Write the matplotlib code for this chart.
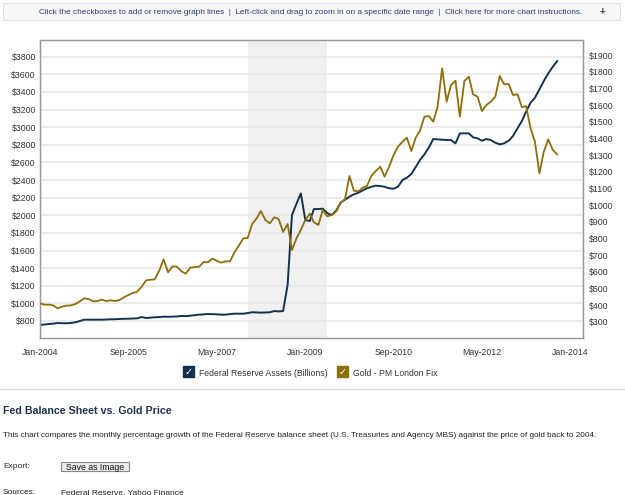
import matplotlib
matplotlib.use("Agg")
import matplotlib.pyplot as plt
import matplotlib.dates as mdates
from matplotlib.patches import Rectangle, FancyBboxPatch
from matplotlib.lines import Line2D
import numpy as np
import pandas as pd

plt.rcParams['font.family'] = ['Liberation Sans', 'DejaVu Sans']

# monthly values, Jan-2004 .. Oct-2013
fed_assets = [755, 760, 766, 770, 777, 775, 774, 778, 785, 800, 815, 815,
              815, 815, 815, 817, 819, 820, 823, 825, 826, 828, 830, 845,
              834, 838, 842, 845, 849, 848, 849, 852, 857, 855, 860, 866,
              872, 875, 879, 878, 876, 872, 872, 878, 883, 883, 883, 890,
              899, 897, 895, 897, 899, 913, 909, 913, 1209, 2003, 2131, 2249,
              1945, 1935, 2071, 2071, 2075, 2025, 2003, 2052, 2143, 2177, 2211, 2238,
              2256, 2283, 2306, 2324, 2336, 2332, 2324, 2306, 2302, 2324, 2400, 2426,
              2468, 2551, 2627, 2692, 2767, 2866, 2862, 2858, 2854, 2854, 2817, 2930,
              2930, 2930, 2885, 2874, 2846, 2866, 2854, 2824, 2805, 2817, 2846, 2900,
              2987, 3073, 3176, 3278, 3334, 3430, 3524, 3611, 3686, 3751]
gold_fix = [410, 402, 402, 398, 380, 390, 396, 398, 406, 422, 440, 436,
            422, 424, 432, 424, 428, 424, 430, 446, 460, 472, 480, 510,
            548, 552, 553, 606, 674, 596, 632, 630, 602, 588, 624, 628,
            630, 658, 656, 678, 666, 654, 662, 662, 716, 756, 800, 802,
            886, 920, 964, 910, 890, 926, 916, 838, 886, 730, 800, 850,
            910, 948, 896, 880, 970, 932, 940, 960, 1014, 1034, 1174, 1086,
            1082, 1104, 1114, 1174, 1204, 1230, 1170, 1230, 1300, 1350, 1380, 1404,
            1324, 1406, 1444, 1530, 1534, 1500, 1590, 1820, 1620, 1720, 1746, 1530,
            1744, 1770, 1664, 1650, 1564, 1600, 1620, 1650, 1774, 1724, 1726, 1660,
            1664, 1586, 1594, 1460, 1380, 1190, 1320, 1394, 1330, 1304]
dates = pd.date_range('2004-01-01', periods=len(fed_assets), freq='MS')

x_ticks = pd.to_datetime(['2004-01-01', '2005-09-01', '2007-05-01', '2009-01-01',
                          '2010-09-01', '2012-05-01', '2014-01-01'])
left_ticks = list(range(800, 3801, 200))
right_ticks = list(range(300, 1901, 100))
recession = (pd.Timestamp('2007-12-01'), pd.Timestamp('2009-06-01'))

W, H = 625, 495
fx = lambda x: x / W
fy = lambda y: 1 - y / H

navy = '#14324f'
gold = '#8c6e0c'
txt = '#333333'

fig = plt.figure(figsize=(6.25, 4.95), dpi=100)
fig.patch.set_facecolor('white')

# top instruction bar
fig.add_artist(FancyBboxPatch((fx(3), fy(20)), fx(617), 17 / H, boxstyle='square,pad=0',
                              transform=fig.transFigure, facecolor='#f7f7f7',
                              edgecolor='#dddddd', lw=0.8))
fig.text(fx(311), fy(11.5), 'Click the checkboxes to add or remove graph lines  |  '
         'Left-click and drag to zoom in on a specific date range  |  '
         'Click here for more chart instructions.', fontsize=5.93, color='#2b3f7a',
         ha='center', va='center_baseline')
fig.text(fx(602), fy(11.5), '+', fontsize=7, color='#444444', ha='center',
         va='center_baseline', fontweight='bold')

ax = fig.add_axes([fx(40), fy(338), (583 - 40) / W, (338 - 40) / H])
ax2 = ax.twinx()

ax.axvspan(recession[0], recession[1], color='#f0f0f0', zorder=0, lw=0)
ax.set_axisbelow(True)
ax.yaxis.grid(True, color='#e8e8e8', lw=1.2)

ax.plot(dates, fed_assets, color=navy, lw=1.4, zorder=3)
ax2.plot(dates, gold_fix, color=gold, lw=1.3, zorder=3)

ax.set_xlim(pd.Timestamp('2004-01-01'), pd.Timestamp('2014-03-28'))
ax.set_ylim(607, 3990)
ax2.set_ylim(202, 1990)

ax.set_xticks(x_ticks)
ax.xaxis.set_major_formatter(mdates.DateFormatter('%b-%Y'))
ax.set_yticks(left_ticks)
ax.set_yticklabels(['$%d' % v for v in left_ticks])
ax2.set_yticks(right_ticks)
ax2.set_yticklabels(['$%d' % v for v in right_ticks])

ax.tick_params(axis='x', length=0, pad=7, labelsize=6.3, labelcolor=txt)
ax.tick_params(axis='y', length=0, pad=3, labelsize=6.3, labelcolor=txt)
ax2.tick_params(axis='y', length=0, pad=4, labelsize=6.3, labelcolor=txt)
for a in (ax, ax2):
    for s in a.spines.values():
        s.set_color('#999999')
        s.set_linewidth(0.9)

# legend with checkboxes
for x0, col, label in [(183, navy, 'Federal Reserve Assets (Billions)'),
                       (337, gold, 'Gold - PM London Fix')]:
    fig.add_artist(Rectangle((fx(x0), fy(377)), 11 / W, 11 / H, transform=fig.transFigure,
                             facecolor=col, edgecolor=col))
    fig.text(fx(x0 + 5.5), fy(371.5), '\u2713', family='DejaVu Sans', color='white',
             fontsize=7, fontweight='bold', ha='center', va='center')
    fig.text(fx(x0 + 16), fy(372), label, fontsize=6.2, color=txt, va='center_baseline')

fig.add_artist(Line2D([0, 1], [fy(389), fy(389)], transform=fig.transFigure,
                      color='#dddddd', lw=1))

fig.text(fx(3), fy(409.5), 'Fed Balance Sheet vs. Gold Price', fontsize=7.7,
         fontweight='bold', color='#1f3550', va='center_baseline')
fig.text(fx(3), fy(434.5), 'This chart compares the monthly percentage growth of the Federal '
         'Reserve balance sheet (U.S. Treasuries and Agency MBS) against the price of gold '
         'back to 2004.', fontsize=5.89, color='#222222', va='center_baseline')
fig.text(fx(3), fy(466), 'Export:', fontsize=6, color='#222222', va='center_baseline')
fig.add_artist(FancyBboxPatch((fx(61), fy(471)), 68 / W, 9.5 / H, boxstyle='square,pad=0',
                              transform=fig.transFigure, facecolor='#ececec',
                              edgecolor='#888888', lw=0.8))
fig.text(fx(95), fy(466.3), 'Save as Image', fontsize=6.3, color='#111111',
         ha='center', va='center_baseline')
fig.text(fx(3), fy(492), 'Sources:', fontsize=6, color='#222222', va='center_baseline')
fig.text(fx(61), fy(492), 'Federal Reserve, Yahoo Finance', fontsize=6,
         color='#222222', va='center_baseline')

fig.savefig('out.png', dpi=100)
